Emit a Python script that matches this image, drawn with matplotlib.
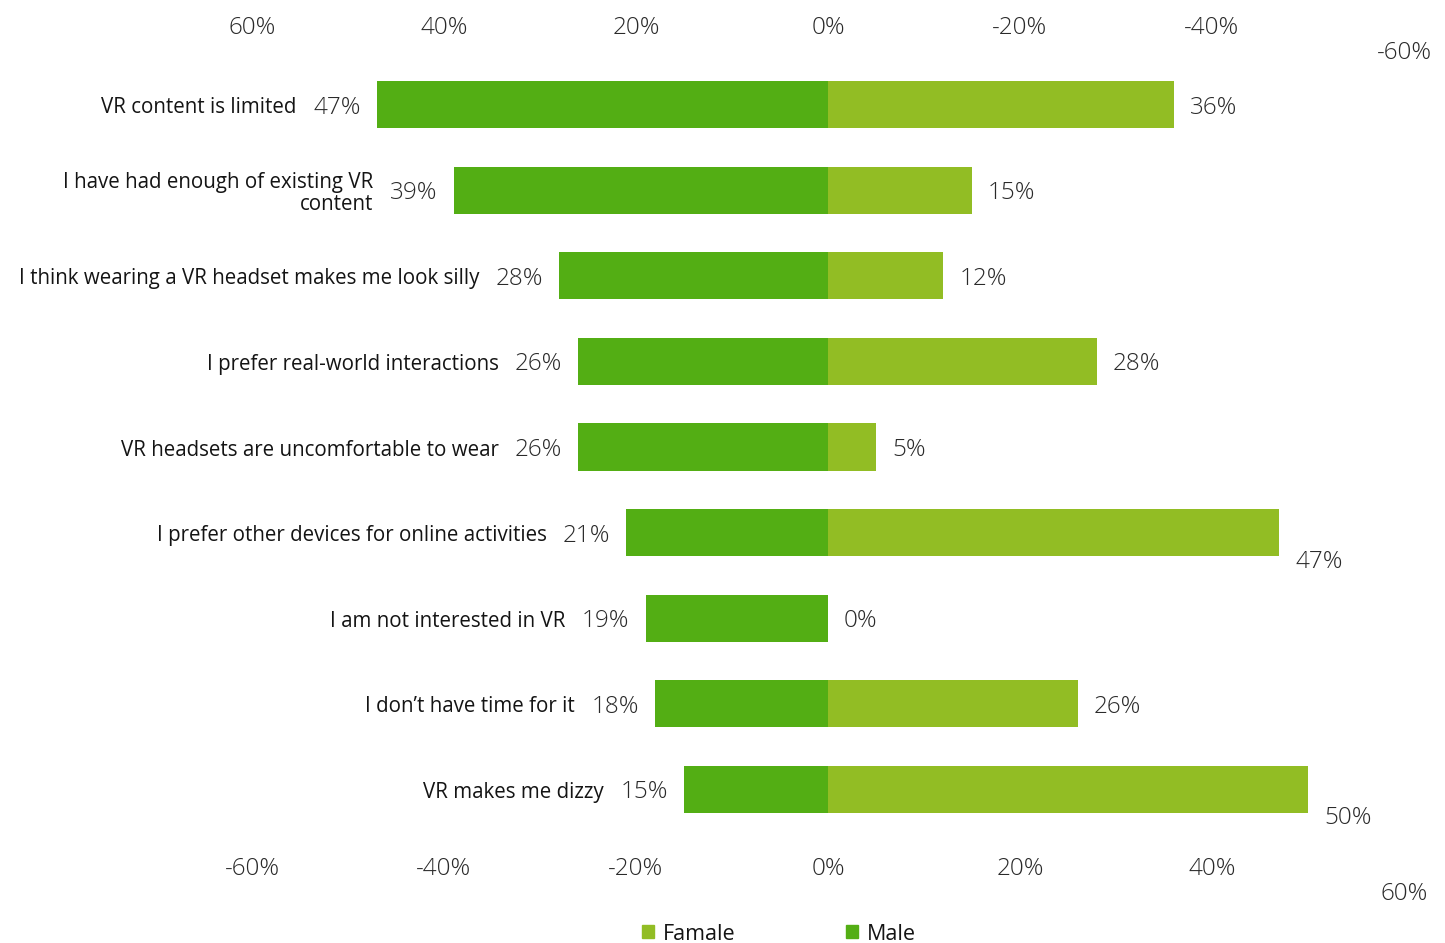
import matplotlib
matplotlib.use("Agg")
import matplotlib.pyplot as plt
from matplotlib.patches import Patch
from matplotlib.transforms import blended_transform_factory

categories = [
    "VR content is limited",
    "I have had enough of existing VR\ncontent",
    "I think wearing a VR headset makes me look silly",
    "I prefer real-world interactions",
    "VR headsets are uncomfortable to wear",
    "I prefer other devices for online activities",
    "I am not interested in VR",
    "I don\u2019t have time for it",
    "VR makes me dizzy",
]
male = [47, 39, 28, 26, 26, 21, 19, 18, 15]
female = [36, 15, 12, 28, 5, 47, 0, 26, 50]
top_ticks = [-60, -40, -20, 0, 20, 40, 60]
top_labels = ["60%", "40%", "20%", "0%", "-20%", "-40%", "-60%"]
bottom_labels = ["-60%", "-40%", "-20%", "0%", "20%", "40%", "60%"]

male_color = "#53ae14"
female_color = "#92bd24"
text_color = "#141414"
num_color = "#2a2a2a"
FONT = "Open Sans"
NUM_SIZE = 17.5
CAT_SIZE = 14.8

W, H = 1445, 943
fig = plt.figure(figsize=(W / 100, H / 100), dpi=100)
ax_left, ax_right = 252, 1404
ax_top, ax_bottom = 60.5, 833.5
ax = fig.add_axes([ax_left / W, 1 - ax_bottom / H, (ax_right - ax_left) / W, (ax_bottom - ax_top) / H])

y = list(range(len(categories)))
ax.barh(y, [-m for m in male], height=0.55, color=male_color)
ax.barh(y, female, height=0.55, color=female_color)
ax.set_xlim(-60, 60)
ax.set_ylim(len(categories) - 0.48, -0.52)
ax.axis("off")

DY = -3
for i, (c, m, f) in enumerate(zip(categories, male, female)):
    ax.annotate(f"{m}%", (-m, i), xytext=(-16, DY), textcoords="offset pixels",
                ha="right", va="center", fontsize=NUM_SIZE, family=FONT, fontweight="light",
                color=num_color)
    ax.annotate(c, (-m, i), xytext=(-80, DY), textcoords="offset pixels",
                ha="right", va="center", fontsize=CAT_SIZE, family=FONT, color=text_color,
                linespacing=1.05)
    dy = DY - 26 if f > 40 else DY
    ax.annotate(f"{f}%", (f, i), xytext=(16, dy), textcoords="offset pixels",
                ha="left", va="center", fontsize=NUM_SIZE, family=FONT, fontweight="light",
                color=num_color)

tr = blended_transform_factory(ax.transData, fig.transFigure)
for k, (t, tl, bl) in enumerate(zip(top_ticks, top_labels, bottom_labels)):
    last = k == len(top_ticks) - 1
    ytop = 53 if last else 28
    ybot = 894 if last else 869
    fig.text(t, 1 - ytop / H, tl, transform=tr, ha="center", va="center",
             fontsize=NUM_SIZE, family=FONT, fontweight="light", color=num_color)
    fig.text(t, 1 - ybot / H, bl, transform=tr, ha="center", va="center",
             fontsize=NUM_SIZE, family=FONT, fontweight="light", color=num_color)

handles = [Patch(color=female_color, label="Famale"), Patch(color=male_color, label="Male")]
leg = fig.legend(handles=handles, loc="center", bbox_to_anchor=(779 / W, 1 - 934 / H),
                 ncol=2, frameon=False, handlelength=0.55, handleheight=0.55,
                 handletextpad=0.45, columnspacing=5.1,
                 prop={"family": FONT, "size": 15.5})
for t in leg.get_texts():
    t.set_color(text_color)

fig.savefig("out.png", dpi=100)
